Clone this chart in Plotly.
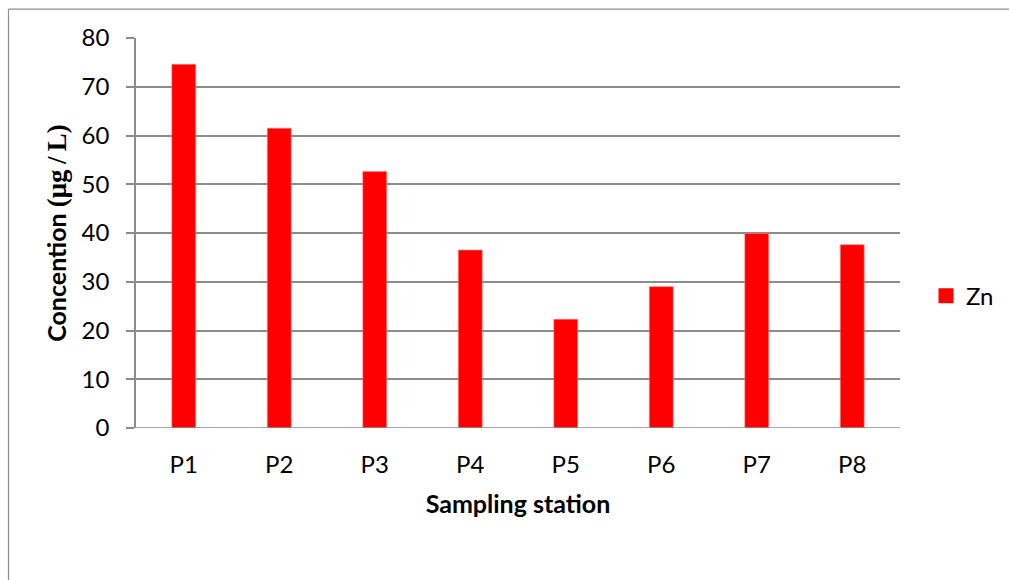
import plotly.graph_objects as go

stations = ["P1", "P2", "P3", "P4", "P5", "P6", "P7", "P8"]
zn_values = [74.6, 61.5, 52.6, 36.5, 22.3, 29.0, 39.9, 37.6]
y_ticks = [0, 10, 20, 30, 40, 50, 60, 70, 80]

W, H = 1009, 580
L, R, T, B = 136, 900, 37.5, 428  # plot-area edges in pixels


def px_to_paper_x(px):
    return (px - L) / (R - L)


def px_to_paper_y(py):
    return (B - py) / (B - T)


bar_red = "#ff0000"
grid_col = "#8c8c8c"
font_main = "Lato, 'Open Sans', sans-serif"

fig = go.Figure()
fig.add_trace(go.Bar(
    x=stations,
    y=zn_values,
    name="Zn",
    showlegend=False,
    marker=dict(color=bar_red, line=dict(color="#ff8080", width=0.6)),
))
# legend entry with a larger square key
fig.add_trace(go.Scatter(
    x=[None], y=[None],
    mode="markers",
    name="Zn",
    marker=dict(symbol="square", size=15, color=bar_red),
))

y_title = (
    "<b>Concention </b>"
    "<span style=\"font-family:'Liberation Serif', serif; font-size:27px\"><b>(μg\u2009/\u2009L)</b></span>"
)

fig.update_layout(
    width=W,
    height=H,
    margin=dict(l=L, r=W - R, t=T, b=H - B, autoexpand=False),
    paper_bgcolor="white",
    plot_bgcolor="white",
    bargap=0.75,
    font=dict(family=font_main, color="#000000", size=24),
    showlegend=True,
    legend=dict(
        x=px_to_paper_x(926), y=px_to_paper_y(296),
        xanchor="left", yanchor="middle",
        font=dict(size=24, family=font_main),
        bgcolor="rgba(0,0,0,0)",
        itemwidth=30,
    ),
    xaxis=dict(
        type="category",
        showgrid=False,
        showline=False,
        ticks="",
        tickfont=dict(size=24),
        ticklabelstandoff=20,
        title=dict(text="<b>Sampling station</b>", font=dict(size=25), standoff=18),
    ),
    yaxis=dict(
        range=[0, 80],
        tickvals=y_ticks,
        ticks="outside",
        ticklen=8,
        tickcolor=grid_col,
        tickwidth=1.5,
        showgrid=True,
        gridcolor=grid_col,
        gridwidth=1.5,
        showline=True,
        linecolor=grid_col,
        linewidth=1.5,
        zeroline=False,
        tickfont=dict(size=24),
        ticklabelstandoff=12,
        title=dict(text=y_title, font=dict(size=25), standoff=8),
    ),
    shapes=[
        # baseline across the category axis, extended like a tick
        dict(type="line", xref="paper", yref="y",
             x0=px_to_paper_x(127), x1=1, y0=0, y1=0,
             line=dict(color=grid_col, width=1.5)),
        # outer chart frame (left and top edges)
        dict(type="line", xref="paper", yref="paper",
             x0=px_to_paper_x(8.5), x1=px_to_paper_x(8.5),
             y0=px_to_paper_y(8.5), y1=px_to_paper_y(585),
             line=dict(color="#8c8c8c", width=1.2)),
        dict(type="line", xref="paper", yref="paper",
             x0=px_to_paper_x(8.5), x1=px_to_paper_x(1015),
             y0=px_to_paper_y(8.5), y1=px_to_paper_y(8.5),
             line=dict(color="#8c8c8c", width=1.2)),
    ],
)

fig.write_html("out.html")
